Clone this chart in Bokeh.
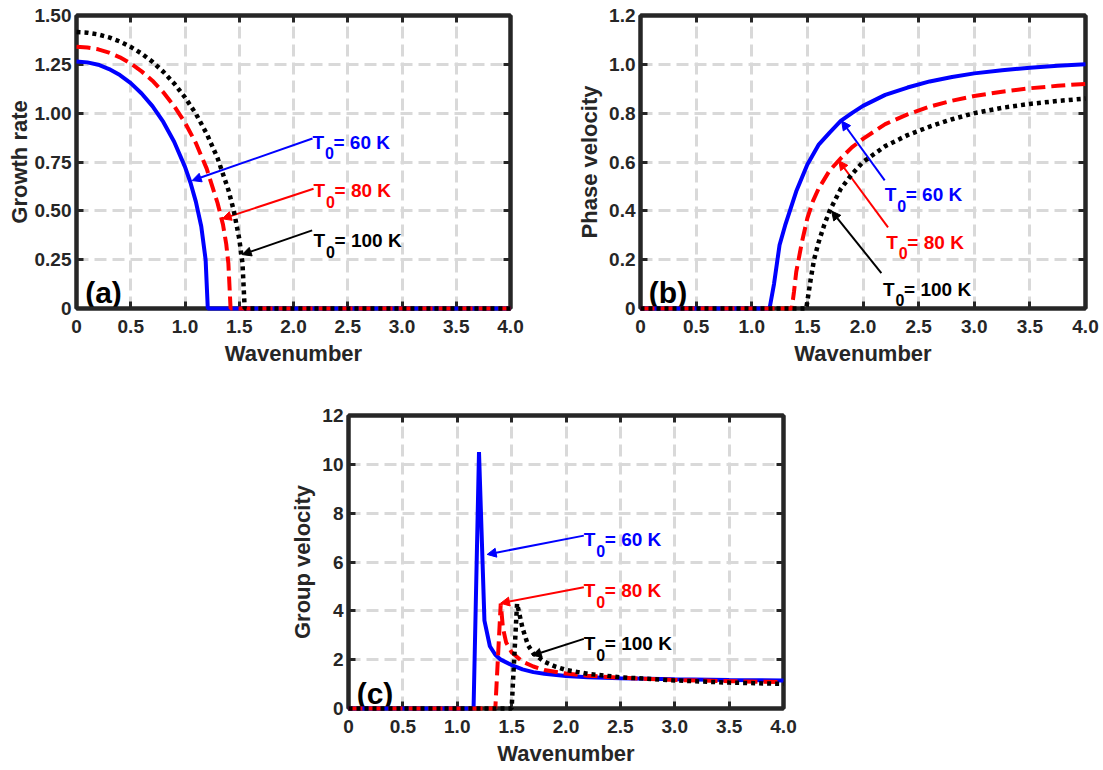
from bokeh.plotting import figure
from bokeh.models import Range1d, LinearAxis, FixedTicker, Arrow, NormalHead, Spacer, ColumnDataSource
from bokeh.layouts import column, row
from bokeh.core.properties import value
from bokeh.embed import file_html
from bokeh.resources import INLINE

FONT = "Liberation Sans"
AXC = "#262626"
GRIDC = "#d9d9d9"
COLORS = ["#0000ff", "#ff0000", "#000000"]
SERIES_TEXT = ["= 60 K", "= 80 K", "= 100 K"]

x_ticks = [0, 0.5, 1.0, 1.5, 2.0, 2.5, 3.0, 3.5, 4.0]
x_tick_labels = ["0", "0.5", "1.0", "1.5", "2.0", "2.5", "3.0", "3.5", "4.0"]

# ---------------- (a) growth rate ----------------
ya_ticks = [0, 0.25, 0.5, 0.75, 1.0, 1.25, 1.5]
ya_tick_labels = ["0", "0.25", "0.50", "0.75", "1.00", "1.25", "1.50"]
ka_60 = [0, 0.1, 0.2, 0.3, 0.4, 0.5, 0.6, 0.7, 0.8, 0.9, 1.0, 1.05, 1.1, 1.15, 1.19, 1.21, 4.0]
ga_60 = [1.265, 1.26, 1.248, 1.226, 1.195, 1.154, 1.101, 1.036, 0.955, 0.854, 0.725, 0.645, 0.547, 0.42, 0.25, 0.0, 0.0]
ka_80 = [0, 0.1, 0.2, 0.3, 0.4, 0.5, 0.6, 0.7, 0.8, 0.9, 1.0, 1.1, 1.2, 1.3, 1.35, 1.38, 1.4, 1.42, 4.0]
ga_80 = [1.34, 1.336, 1.327, 1.31, 1.286, 1.254, 1.214, 1.166, 1.107, 1.036, 0.951, 0.847, 0.716, 0.54, 0.43, 0.33, 0.23, 0.0, 0.0]
ka_100 = [0, 0.1, 0.2, 0.3, 0.4, 0.5, 0.6, 0.7, 0.8, 0.9, 1.0, 1.1, 1.2, 1.3, 1.4, 1.45, 1.5, 1.53, 1.55, 4.0]
ga_100 = [1.415, 1.412, 1.403, 1.388, 1.367, 1.339, 1.305, 1.263, 1.212, 1.152, 1.081, 0.997, 0.895, 0.77, 0.607, 0.5, 0.357, 0.23, 0.0, 0.0]

a_text_k = [2.175, 2.185, 2.185]
a_text_y = [0.85, 0.604, 0.348]
a_arrow_k0 = [2.175, 2.185, 2.172]
a_arrow_y0 = [0.87, 0.613, 0.40]
a_arrow_k1 = [1.066, 1.343, 1.527]
a_arrow_y1 = [0.655, 0.459, 0.276]

# ---------------- (b) phase velocity ----------------
yb_ticks = [0, 0.2, 0.4, 0.6, 0.8, 1.0, 1.2]
yb_tick_labels = ["0", "0.2", "0.4", "0.6", "0.8", "1.0", "1.2"]
kb_60 = [0, 1.16, 1.2, 1.25, 1.3, 1.35, 1.4, 1.5, 1.6, 1.7, 1.8, 1.9, 2.0, 2.2, 2.4, 2.6, 2.8, 3.0, 3.25, 3.5, 3.75, 4.0]
vb_60 = [0, 0, 0.1, 0.26, 0.34, 0.41, 0.48, 0.59, 0.67, 0.72, 0.768, 0.80, 0.83, 0.875, 0.905, 0.93, 0.948, 0.963, 0.976, 0.986, 0.994, 1.0]
kb_80 = [0, 1.36, 1.38, 1.4, 1.45, 1.5, 1.55, 1.6, 1.7, 1.8, 1.9, 2.0, 2.2, 2.4, 2.6, 2.8, 3.0, 3.25, 3.5, 3.75, 4.0]
vb_80 = [0, 0, 0.07, 0.15, 0.27, 0.37, 0.44, 0.49, 0.565, 0.615, 0.66, 0.695, 0.755, 0.795, 0.827, 0.851, 0.87, 0.888, 0.902, 0.912, 0.92]
kb_100 = [0, 1.49, 1.51, 1.53, 1.56, 1.6, 1.65, 1.7, 1.8, 1.9, 2.0, 2.2, 2.4, 2.6, 2.8, 3.0, 3.25, 3.5, 3.75, 4.0]
vb_100 = [0, 0, 0.06, 0.12, 0.2, 0.27, 0.34, 0.4, 0.49, 0.55, 0.6, 0.665, 0.71, 0.745, 0.775, 0.8, 0.822, 0.838, 0.85, 0.86]

b_text_k = [2.195, 2.21, 2.18]
b_text_y = [0.465, 0.272, 0.079]
b_arrow_k0 = [2.195, 2.225, 2.165]
b_arrow_y0 = [0.525, 0.332, 0.145]
b_arrow_k1 = [1.808, 1.783, 1.718]
b_arrow_y1 = [0.768, 0.605, 0.399]

# ---------------- (c) group velocity ----------------
yc_ticks = [0, 2, 4, 6, 8, 10, 12]
yc_tick_labels = ["0", "2", "4", "6", "8", "10", "12"]
kc_60 = [0, 1.15, 1.2, 1.25, 1.3, 1.35, 1.4, 1.5, 1.6, 1.7, 1.8, 2.0, 2.2, 2.5, 3.0, 3.5, 4.0]
vc_60 = [0, 0, 10.5, 3.6, 2.55, 2.2, 2.0, 1.78, 1.6, 1.49, 1.42, 1.33, 1.28, 1.24, 1.2, 1.17, 1.15]
kc_80 = [0, 1.35, 1.4, 1.42, 1.45, 1.5, 1.6, 1.7, 1.8, 2.0, 2.2, 2.5, 3.0, 3.5, 4.0]
vc_80 = [0, 0, 4.3, 3.3, 2.7, 2.3, 1.92, 1.72, 1.58, 1.43, 1.34, 1.26, 1.17, 1.12, 1.08]
kc_100 = [0, 1.5, 1.55, 1.6, 1.65, 1.7, 1.8, 1.9, 2.0, 2.2, 2.5, 3.0, 3.5, 4.0]
vc_100 = [0, 0, 4.3, 3.3, 2.6, 2.25, 1.92, 1.72, 1.58, 1.42, 1.28, 1.15, 1.06, 1.01]

c_text_k = [2.164, 2.164, 2.164]
c_text_y = [6.91, 4.83, 2.65]
c_arrow_k0 = [2.164, 2.164, 2.164]
c_arrow_y0 = [7.08, 4.97, 2.85]
c_arrow_k1 = [1.275, 1.398, 1.689]
c_arrow_y1 = [6.31, 4.31, 2.17]

panel_letters = ["(a)", "(b)", "(c)"]
letter_k = [0.08, 0.075, 0.075]
letter_y = [0.082, 0.064, 0.62]


def make_fig(y_end, y_ticks, y_labels, ylabel, w, h, bl, br, bt, bb, ylab_standoff):
    p = figure(width=w, height=h, x_range=Range1d(0, 4), y_range=Range1d(0, y_end),
               output_backend="svg", toolbar_location=None,
               min_border_left=bl, min_border_right=br, min_border_top=bt, min_border_bottom=bb,
               background_fill_color="white", border_fill_color="white")
    p.outline_line_color = AXC
    p.outline_line_width = 4
    for ax, ticks, labels in ((p.xaxis[0], x_ticks, x_tick_labels), (p.yaxis[0], y_ticks, y_labels)):
        ax.ticker = FixedTicker(ticks=ticks)
        ax.major_label_overrides = {t: l for t, l in zip(ticks, labels)}
        ax.major_label_text_font = FONT
        ax.major_label_text_font_style = "bold"
        ax.major_label_text_font_size = "19px"
        ax.major_label_text_color = AXC
        ax.axis_label_text_font = FONT
        ax.axis_label_text_font_style = "bold"
        ax.axis_label_text_font_size = "22px"
        ax.axis_label_text_color = AXC
        ax.axis_line_width = 4
        ax.axis_line_color = AXC
        ax.major_tick_in = 7
        ax.major_tick_out = 0
        ax.major_tick_line_width = 3
        ax.major_tick_line_color = AXC
        ax.minor_tick_line_color = None
    p.xaxis.axis_label = "Wavenumber"
    p.yaxis.axis_label = ylabel
    p.xaxis.major_label_standoff = 11
    p.xaxis.axis_label_standoff = 5
    p.yaxis.major_label_standoff = 5
    p.yaxis.axis_label_standoff = ylab_standoff
    for loc, ticks in (("above", x_ticks), ("right", y_ticks)):
        ax = LinearAxis(ticker=FixedTicker(ticks=ticks),
                        major_label_overrides={t: "" for t in ticks},
                        major_label_text_font_size="0px",
                        major_label_standoff=0, major_tick_in=7, major_tick_out=0,
                        major_tick_line_width=3, major_tick_line_color=AXC,
                        minor_tick_line_color=None, axis_line_width=4, axis_line_color=AXC)
        p.add_layout(ax, loc)
    for g, ticks in ((p.xgrid[0], x_ticks), (p.ygrid[0], y_ticks)):
        g.ticker = FixedTicker(ticks=ticks)
        g.grid_line_color = GRIDC
        g.grid_line_width = 3
        g.grid_line_dash = "12 6"
    return p


def add_series(p, ks, vs):
    styles = [dict(line_dash="solid", line_width=4),
              dict(line_dash="14 6", line_width=4),
              dict(line_dash="4 4", line_width=4.5)]
    for k, v, c, st in zip(ks, vs, COLORS, styles):
        r = p.line(k, v, line_color=c, **st)
        r.level = "overlay"


def add_annotations(p, tk, ty, k0, y0, k1, y1, letter, lk, ly):
    for i in range(3):
        p.add_layout(Arrow(end=NormalHead(size=9, fill_color=COLORS[i], line_color=COLORS[i], line_width=1),
                           x_start=k0[i], y_start=y0[i], x_end=k1[i], y_end=y1[i],
                           line_color=COLORS[i], line_width=2))
    src = ColumnDataSource(dict(x=tk, y=ty, c=COLORS, t=SERIES_TEXT))
    common = dict(source=src, text_color="c", text_font=value(FONT), text_font_style="bold",
                  text_baseline="alphabetic", text_align="left")
    p.text(x="x", y="y", text=value("T"), text_font_size="19px", **common)
    p.text(x="x", y="y", text=value("0"), text_font_size="16px", x_offset=12.5, y_offset=11, **common)
    p.text(x="x", y="y", text="t", text_font_size="19px", x_offset=21, **common)
    p.text(x=[lk], y=[ly], text=[letter], text_color="#000000", text_font=value(FONT),
           text_font_style="bold", text_font_size="30px", text_baseline="alphabetic", text_align="left")


# page has no margin (Bokeh template): positions are absolute
pa = make_fig(1.5, ya_ticks, ya_tick_labels, "Growth rate", 574, 370, 76, 64, 15, 62, 0)
add_series(pa, [ka_60, ka_80, ka_100], [ga_60, ga_80, ga_100])
add_annotations(pa, a_text_k, a_text_y, a_arrow_k0, a_arrow_y0, a_arrow_k1, a_arrow_y1,
                panel_letters[0], letter_k[0], letter_y[0])

pb = make_fig(1.2, yb_ticks, yb_tick_labels, "Phase velocity", 527, 370, 64, 16, 10, 62, 4)
add_series(pb, [kb_60, kb_80, kb_100], [vb_60, vb_80, vb_100])
add_annotations(pb, b_text_k, b_text_y, b_arrow_k0, b_arrow_y0, b_arrow_k1, b_arrow_y1,
                panel_letters[1], letter_k[1], letter_y[1])

pc = make_fig(12, yc_ticks, yc_tick_labels, "Group velocity", 517, 398, 62, 20, 45, 60, 4)
add_series(pc, [kc_60, kc_80, kc_100], [vc_60, vc_80, vc_100])
add_annotations(pc, c_text_k, c_text_y, c_arrow_k0, c_arrow_y0, c_arrow_k1, c_arrow_y1,
                panel_letters[2], letter_k[2], letter_y[2])

layout = column(row(pa, pb), row(Spacer(width=286, height=10), pc))

open("out.html", "w").write(file_html(layout, INLINE))
